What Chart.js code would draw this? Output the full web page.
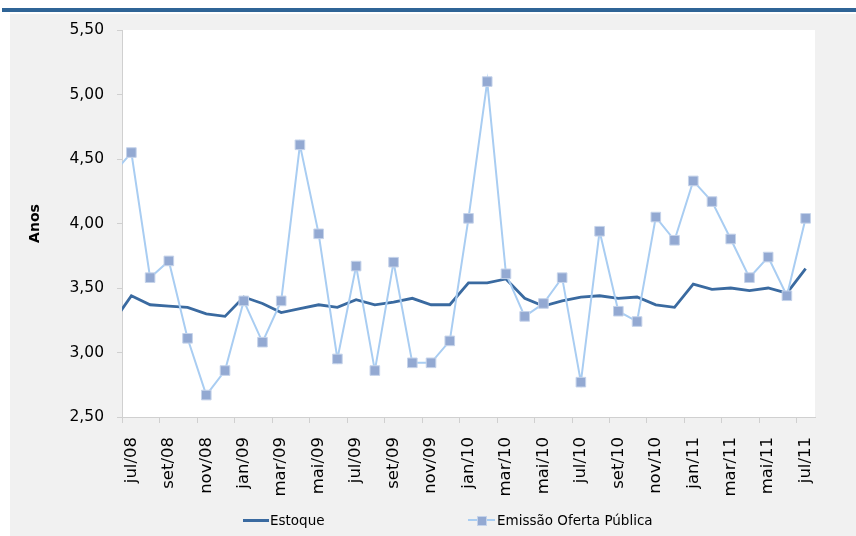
<!DOCTYPE html>
<html>
<head>
<meta charset="utf-8">
<script src="https://cdn.jsdelivr.net/npm/chart.js@4"></script>
<style>
  body { margin: 0; background: #fff; }
  #wrap { position: relative; width: 856px; height: 536px; }
  .leg { position: absolute; top: 511px; height: 18px; font: 13.5px "DejaVu Sans", sans-serif; color: #000; line-height: 18px; }
  .leg span { position: absolute; top: 0; white-space: nowrap; }
  .sw { position: absolute; }
</style>
</head>
<body>
<div id="wrap">
  <canvas id="prazo-chart" width="856" height="536"></canvas>
  <div class="leg" style="left:243px">
    <div class="sw" style="left:0; top:8px; width:26px; height:3px; background:#3a6aa0"></div>
    <span style="left:27px">Estoque</span>
  </div>
  <div class="leg" style="left:468px">
    <div class="sw" style="left:0; top:8px; width:27px; height:2px; background:#a9cdf2"></div>
    <div class="sw" style="left:9px; top:5px; width:8px; height:8px; background:#93a9d2; border:1px solid #c5d3ea"></div>
    <span style="left:29px">Emissão Oferta Pública</span>
  </div>
</div>
<script>
const meses = [
  'jun/08', 'jul/08', 'ago/08', 'set/08', 'out/08', 'nov/08', 'dez/08',
  'jan/09', 'fev/09', 'mar/09', 'abr/09', 'mai/09', 'jun/09', 'jul/09', 'ago/09', 'set/09', 'out/09', 'nov/09', 'dez/09',
  'jan/10', 'fev/10', 'mar/10', 'abr/10', 'mai/10', 'jun/10', 'jul/10', 'ago/10', 'set/10', 'out/10', 'nov/10', 'dez/10',
  'jan/11', 'fev/11', 'mar/11', 'abr/11', 'mai/11', 'jun/11', 'jul/11'
]
const estoque = [
  3.23, 3.44, 3.37, 3.36, 3.35, 3.30, 3.28,
  3.43, 3.38, 3.31, 3.34, 3.37, 3.35, 3.41, 3.37, 3.39, 3.42, 3.37, 3.37,
  3.54, 3.54, 3.57, 3.42, 3.36, 3.40, 3.43, 3.44, 3.42, 3.43, 3.37, 3.35,
  3.53, 3.49, 3.50, 3.48, 3.50, 3.46, 3.65
]
const emissao = [
  4.38, 4.55, 3.58, 3.71, 3.11, 2.67, 2.86,
  3.40, 3.08, 3.40, 4.61, 3.92, 2.95, 3.67, 2.86, 3.70, 2.92, 2.92, 3.09,
  4.04, 5.10, 3.61, 3.28, 3.38, 3.58, 2.77, 3.94, 3.32, 3.24, 4.05, 3.87,
  4.33, 4.17, 3.88, 3.58, 3.74, 3.44, 4.04
]
const yTicks = [2.5, 3.0, 3.5, 4.0, 4.5, 5.0, 5.5]

const toPoints = arr => arr.map((v, i) => ({ x: i, y: v }))
const fmt = v => v.toFixed(2).replace('.', ',')

// page frame: blue rule on top, grey panel, white plot area
const frame = {
  id: 'frame',
  beforeDraw(chart) {
    const { ctx, chartArea: a } = chart
    ctx.save()
    ctx.fillStyle = '#ffffff'
    ctx.fillRect(0, 0, chart.width, chart.height)
    ctx.fillStyle = '#2f6496'
    ctx.fillRect(2, 8, chart.width - 2, 4)
    ctx.fillStyle = '#f1f1f1'
    ctx.fillRect(10, 14, chart.width - 10, chart.height - 14)
    ctx.fillStyle = '#ffffff'
    ctx.fillRect(a.left, a.top, a.right - a.left, a.bottom - a.top)
    ctx.restore()
  },
  // x tick marks sit between months, every second month
  afterDraw(chart) {
    const { ctx, chartArea: a, scales: { x } } = chart
    ctx.save()
    ctx.strokeStyle = '#d0d0d0'
    ctx.lineWidth = 1
    ctx.beginPath()
    for (let i = 0.5; i < meses.length; i += 2) {
      const px = Math.round(x.getPixelForValue(i)) + 0.5
      ctx.moveTo(px, a.bottom)
      ctx.lineTo(px, a.bottom + 6)
    }
    ctx.stroke()
    ctx.restore()
  }
}

new Chart(document.querySelector('#prazo-chart'), {
  type: 'line',
  data: {
    datasets: [{
      label: 'Emissão Oferta Pública',
      data: toPoints(emissao),
      borderColor: '#a9cdf2',
      borderWidth: 2,
      pointStyle: 'rect',
      pointRadius: 6.8,
      pointBackgroundColor: '#93a9d2',
      pointBorderColor: '#c5d3ea',
      pointBorderWidth: 1,
      tension: 0,
      clip: 0,
      order: 0
    }, {
      label: 'Estoque',
      data: toPoints(estoque),
      borderColor: '#3a6aa0',
      borderWidth: 2.8,
      pointRadius: 0,
      tension: 0,
      clip: 0,
      order: 1
    }]
  },
  options: {
    responsive: false,
    animation: false,
    devicePixelRatio: 1,
    layout: { padding: { left: 10, top: 30, right: 41, bottom: 0 } },
    plugins: { legend: { display: false }, tooltip: { enabled: false } },
    scales: {
      x: {
        type: 'linear',
        min: 0.5,
        max: meses.length - 0.5,
        afterBuildTicks: s => { s.ticks = meses.map((m, i) => ({ value: i })).filter(t => t.value % 2 === 1) },
        afterFit: s => { s.height = 119 },
        grid: { display: false, drawTicks: true, tickLength: 5 },
        border: { display: true, color: '#d0d0d0' },
        ticks: {
          autoSkip: false,
          minRotation: 90,
          maxRotation: 90,
          padding: 15,
          color: '#000',
          font: { family: 'DejaVu Sans', size: 16.5 },
          callback: v => meses[v]
        }
      },
      y: {
        min: 2.5,
        max: 5.5,
        afterBuildTicks: s => { s.ticks = yTicks.map(v => ({ value: v })) },
        afterFit: s => { s.width = 112 },
        grid: { drawOnChartArea: false, drawTicks: true, tickLength: 5, color: '#d0d0d0' },
        border: { display: true, color: '#d0d0d0' },
        title: {
          display: true,
          text: 'Anos',
          color: '#000',
          font: { family: 'DejaVu Sans', size: 14, weight: 'bold' },
          padding: { top: 17, bottom: 0 }
        },
        ticks: {
          padding: 13,
          color: '#000',
          font: { family: 'DejaVu Sans', size: 15.5 },
          callback: v => fmt(v)
        }
      }
    }
  },
  plugins: [frame]
})
</script>
</body>
</html>
